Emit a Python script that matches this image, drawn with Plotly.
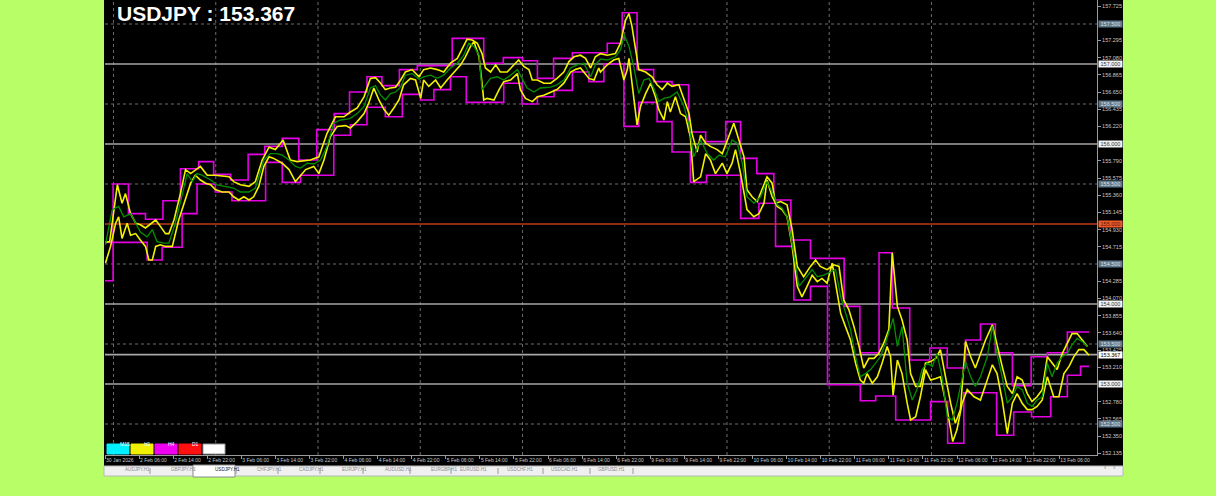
import plotly.graph_objects as go

# ---- data (x = H1 bar index, y = price) ----

CHAN_HI_X = [0, 1.9, 5.5, 9.5, 13.6, 17.7, 22.0, 25.5, 29.5, 33.6, 37.5, 41.6, 45.5, 49.7, 53.8, 57.4,
             61.5, 65.0, 69.1, 73.3, 81.5, 88.9, 93.5, 98.0, 101.5, 105.3, 109.7, 117.9, 121.4, 124.9,
             128.8, 133.1, 137.0, 141.0, 145.7, 149.2, 153.0, 157.0, 161.0, 165.6, 173.5, 177.2, 181.7,
             184.8, 188.9, 193.6, 197.7, 202.0, 205.5, 209.0, 213.0, 217.4, 221.2, 225.9, 231.0]
CHAN_HI_Y = [154.77, 155.50, 155.13, 155.06, 155.29, 155.69, 155.78, 155.62, 155.55, 155.87, 155.97, 156.07,
             155.80, 156.18, 156.38, 156.65, 156.84, 156.73, 156.93, 156.98, 157.32, 157.01, 157.08, 157.04,
             156.82, 157.07, 157.14, 157.26, 157.64, 156.93, 156.78, 156.74, 156.15, 156.03, 156.28, 155.82,
             155.63, 155.30, 154.80, 154.57, 153.97, 153.39, 154.64, 153.95, 153.30, 153.45, 153.20, 153.55,
             153.75, 153.39, 152.98, 153.34, 153.39, 153.65, 153.65]

CHAN_LO_X = [0, 1.9, 9.9, 13.4, 18.1, 21.6, 25.9, 29.8, 37.7, 41.6, 45.9, 53.7, 57.6, 61.5, 65.8, 69.8,
             74.1, 77.2, 81.1, 84.8, 93.6, 97.9, 101.5, 105.4, 109.7, 113.6, 117.1, 121.8, 125.3, 129.6,
             133.1, 137.4, 141.2, 149.2, 153.5, 157.4, 161.7, 165.6, 169.6, 177.3, 180.9, 185.6, 193.8,
             197.8, 201.6, 209.3, 213.3, 217.5, 222.0, 225.9, 229.0, 231.0]
CHAN_LO_Y = [154.29, 154.77, 154.55, 154.71, 155.13, 155.50, 155.40, 155.29, 155.77, 155.52, 155.61, 156.11,
             156.24, 156.46, 156.34, 156.62, 156.55, 156.68, 156.84, 156.52, 156.76, 156.50, 156.59, 156.67,
             156.90, 156.78, 157.00, 156.22, 156.52, 156.28, 155.90, 155.52, 155.61, 155.07, 155.26, 154.72,
             154.05, 154.22, 152.99, 152.79, 152.85, 152.55, 152.78, 152.26, 152.89, 152.36, 152.65, 152.59,
             152.84, 153.11, 153.22, 153.22]

BAND_UP_X = [0.1, 1.1, 2.9, 4.0, 4.8, 6.0, 7.2, 8.3, 9.5, 11.9, 13.0, 14.2, 15.0, 16.2, 17.7, 18.9, 20.1,
             22.4, 24.0, 25.9, 29.1, 30.2, 31.8, 33.8, 35.3, 36.9, 38.5, 40.0, 41.8, 43.5, 45.1, 48.2, 50.2,
             52.1, 54.1, 56.1, 57.6, 59.2, 60.8, 62.3, 63.5, 64.7, 65.8, 67.0, 68.2, 69.4, 70.5, 72.1, 73.7,
             74.8, 76.4, 78.0, 79.5, 81.1, 82.7, 83.8, 85.0, 86.2, 87.4, 88.5, 89.3, 90.5, 91.7, 92.8, 94.4,
             96.0, 97.1, 98.3, 99.5, 100.3, 101.5, 103.0, 104.6, 106.1, 107.7, 108.9, 110.1, 111.6, 112.8,
             114.0, 115.1, 116.3, 117.9, 119.8, 121.0, 122.2, 123.0, 123.7, 124.5, 125.3, 126.9, 128.4,
             129.6, 130.8, 132.0, 133.1, 134.7, 135.9, 137.1, 137.8, 139.0, 139.8, 141.0, 142.1, 143.7,
             144.9, 146.0, 147.6, 148.8, 150.0, 150.7, 151.9, 153.1, 154.3, 155.4, 156.6, 157.4, 158.6,
             160.1, 161.3, 162.5, 164.0, 165.6, 166.8, 167.9, 169.5, 171.1, 172.3, 173.4, 174.6, 175.8,
             177.0, 178.1, 179.3, 180.5, 181.6, 182.8, 184.0, 184.8, 186.0, 187.1, 188.3, 189.1, 190.3,
             191.4, 192.6, 193.8, 195.0, 196.1, 197.3, 198.5, 199.6, 200.8, 202.0, 203.2, 204.3, 205.5,
             206.7, 208.3, 209.4, 210.6, 211.8, 213.0, 214.1, 215.3, 216.5, 217.6, 218.8, 220.0, 221.2,
             222.3, 223.5, 224.7, 225.9, 227.0, 228.2, 229.4, 230.6]
BAND_UP_Y = [154.77, 154.78, 155.49, 155.26, 155.38, 155.13, 155.01, 154.99, 154.95, 155.05, 154.97, 154.88,
             154.88, 155.05, 155.38, 155.68, 155.63, 155.72, 155.61, 155.61, 155.59, 155.53, 155.49, 155.47,
             155.53, 155.80, 155.96, 155.93, 156.05, 155.80, 155.78, 155.80, 155.84, 156.13, 156.34, 156.34,
             156.40, 156.45, 156.59, 156.82, 156.83, 156.76, 156.68, 156.70, 156.71, 156.80, 156.90, 156.93,
             156.84, 156.93, 156.95, 156.93, 156.90, 157.01, 157.07, 157.18, 157.31, 157.30, 157.26, 157.13,
             156.95, 156.90, 156.99, 156.90, 156.90, 156.99, 157.05, 156.97, 156.93, 156.80, 156.80, 156.76,
             156.76, 156.82, 156.90, 157.03, 157.09, 157.11, 157.07, 156.95, 157.09, 157.13, 157.11, 157.13,
             157.26, 157.55, 157.63, 157.47, 157.18, 156.93, 156.90, 156.84, 156.74, 156.68, 156.76, 156.72,
             156.74, 156.55, 156.38, 156.13, 155.90, 156.11, 156.01, 155.97, 155.93, 155.88, 156.03, 156.26,
             156.05, 155.84, 155.43, 155.34, 155.28, 155.43, 155.59, 155.51, 155.26, 155.28, 155.24, 154.93,
             154.47, 154.34, 154.47, 154.55, 154.47, 154.43, 154.49, 154.47, 154.05, 153.93, 153.72, 153.47,
             153.20, 153.32, 153.32, 153.38, 153.51, 153.68, 154.64, 153.97, 153.80, 153.55, 153.13, 152.97,
             152.97, 153.26, 153.28, 153.32, 153.43, 153.09, 152.76, 152.51, 152.68, 153.53, 153.34, 153.20,
             153.38, 153.55, 153.74, 153.47, 153.22, 152.97, 152.88, 153.09, 153.05, 152.88, 152.78, 152.84,
             152.93, 153.34, 153.26, 153.18, 153.38, 153.51, 153.63, 153.63, 153.55, 153.47]

BAND_DN_X = [0.1, 1.3, 2.5, 3.2, 4.0, 5.2, 6.0, 7.2, 8.3, 9.5, 10.3, 11.1, 11.9, 13.0, 14.2, 15.8, 17.3,
             18.9, 20.1, 21.2, 22.4, 23.6, 24.8, 25.9, 27.5, 29.1, 30.2, 31.4, 32.6, 33.8, 34.9, 36.1, 37.3,
             38.5, 39.6, 41.6, 43.2, 44.7, 45.9, 47.1, 49.0, 50.2, 51.4, 52.9, 54.5, 56.5, 57.6, 59.2, 60.8,
             61.9, 63.1, 64.3, 65.5, 66.6, 67.8, 69.0, 70.1, 71.7, 72.9, 74.1, 74.8, 76.0, 77.6, 78.8, 80.3,
             81.9, 83.5, 84.6, 85.8, 86.6, 87.8, 88.5, 88.9, 89.7, 91.3, 92.5, 93.6, 95.2, 96.8, 97.5, 98.7,
             100.3, 101.5, 103.0, 104.6, 106.1, 107.7, 109.3, 110.4, 111.6, 112.4, 113.6, 114.8, 115.9,
             116.3, 117.9, 119.4, 120.6, 121.8, 122.6, 123.0, 123.7, 124.9, 125.7, 126.9, 128.1, 129.2,
             130.0, 131.2, 132.0, 132.7, 133.9, 135.1, 136.3, 137.4, 138.2, 139.8, 141.0, 142.1, 143.3,
             144.9, 146.0, 147.2, 148.0, 149.2, 150.7, 152.3, 153.5, 154.7, 155.4, 156.6, 157.8, 158.9,
             160.1, 161.3, 162.5, 163.6, 164.8, 166.0, 167.2, 168.3, 169.5, 170.7, 171.9, 172.7, 173.8,
             175.0, 176.2, 177.3, 178.1, 178.9, 180.1, 181.3, 182.4, 183.6, 184.4, 185.0, 186.0, 187.1,
             188.3, 189.1, 190.3, 191.4, 192.6, 193.8, 195.0, 196.1, 197.7, 199.0, 200.0, 201.2, 202.4,
             204.0, 205.5, 207.1, 208.3, 209.4, 210.6, 211.8, 213.0, 214.1, 215.3, 216.5, 217.6, 218.8,
             220.0, 221.2, 222.7, 223.9, 225.1, 226.3, 227.4, 228.6, 229.8, 231.0]
BAND_DN_Y = [154.51, 154.72, 155.01, 155.09, 154.82, 155.01, 154.86, 154.88, 154.80, 154.72, 154.55, 154.55,
             154.72, 154.74, 154.72, 154.72, 155.05, 155.30, 155.51, 155.61, 155.55, 155.51, 155.49, 155.43,
             155.40, 155.40, 155.34, 155.30, 155.34, 155.30, 155.34, 155.47, 155.72, 155.84, 155.82, 155.76,
             155.68, 155.53, 155.61, 155.68, 155.72, 155.63, 155.80, 156.09, 156.22, 156.23, 156.20, 156.28,
             156.38, 156.51, 156.70, 156.55, 156.43, 156.36, 156.45, 156.55, 156.74, 156.82, 156.80, 156.57,
             156.80, 156.72, 156.80, 156.70, 156.80, 156.90, 156.99, 157.09, 157.22, 157.28, 157.09, 156.76,
             156.55, 156.57, 156.55, 156.68, 156.78, 156.80, 156.88, 156.68, 156.57, 156.53, 156.59, 156.61,
             156.65, 156.68, 156.76, 156.90, 156.93, 156.95, 156.90, 156.82, 156.80, 156.95, 156.90, 156.99,
             157.05, 157.07, 156.80, 156.93, 157.07, 156.76, 156.24, 156.47, 156.63, 156.76, 156.59, 156.43,
             156.30, 156.53, 156.40, 156.59, 156.38, 156.34, 156.09, 155.53, 155.59, 155.88, 155.80, 155.63,
             155.76, 155.63, 155.76, 155.93, 155.63, 155.18, 155.09, 155.13, 155.26, 155.55, 155.34, 155.22,
             155.18, 155.09, 154.72, 154.22, 154.09, 154.22, 154.36, 154.28, 154.32, 154.26, 154.51, 154.13,
             153.88, 153.72, 153.55, 153.26, 153.05, 153.01, 153.13, 153.01, 153.09, 153.26, 153.47, 153.34,
             152.86, 153.30, 153.13, 152.76, 152.55, 152.59, 152.84, 153.18, 153.05, 153.07, 153.09, 152.68,
             152.28, 152.43, 152.76, 152.93, 152.84, 152.80, 153.05, 153.24, 153.13, 152.80, 152.38, 152.76,
             152.88, 152.76, 152.68, 152.68, 152.72, 152.80, 153.09, 152.84, 152.84, 153.13, 153.22, 153.34,
             153.43, 153.43, 153.36]

MID_X = [0.1, 1.7, 3.2, 4.4, 6.0, 7.2, 8.3, 9.9, 11.1, 12.2, 13.8, 15.0, 16.5, 18.1, 19.3, 20.5, 21.6,
         22.8, 24.8, 26.3, 28.7, 30.2, 31.8, 33.8, 35.3, 37.3, 38.8, 40.4, 41.6, 43.2, 44.7, 45.9, 47.5,
         49.0, 50.6, 52.1, 53.7, 55.3, 56.8, 57.6, 59.2, 60.8, 62.3, 63.5, 64.7, 65.8, 67.0, 68.2, 69.4,
         70.5, 72.1, 73.7, 74.8, 76.4, 78.0, 79.5, 81.1, 82.7, 84.2, 85.4, 86.6, 87.8, 88.5, 89.3, 90.5,
         92.1, 93.6, 95.2, 96.8, 97.9, 99.1, 100.7, 102.2, 104.6, 106.1, 107.7, 109.3, 110.8, 112.4,
         114.0, 115.1, 116.3, 117.9, 119.8, 121.0, 121.9, 123.0, 124.1, 125.3, 126.5, 127.7, 128.8,
         130.0, 131.2, 132.7, 134.3, 135.9, 137.1, 138.2, 139.8, 141.4, 142.9, 144.1, 145.6, 147.2,
         148.4, 149.6, 150.7, 152.3, 153.9, 155.4, 156.6, 157.8, 158.9, 160.1, 161.7, 162.9, 164.4,
         166.0, 167.2, 168.7, 170.3, 171.5, 172.7, 173.8, 175.0, 176.2, 177.3, 178.5, 179.7, 180.9,
         182.0, 183.2, 184.4, 185.0, 186.0, 187.1, 188.3, 189.5, 190.6, 191.8, 193.0, 194.2, 195.3,
         196.5, 197.7, 198.9, 200.0, 201.2, 202.0, 203.2, 204.3, 205.5, 207.1, 208.3, 209.4, 210.6,
         211.8, 213.0, 214.1, 215.3, 216.5, 217.6, 218.8, 220.0, 221.2, 222.3, 223.5, 224.7, 225.9,
         227.0, 228.2, 229.4, 230.6]
MID_Y = [154.74, 155.18, 155.22, 155.09, 155.13, 155.01, 154.90, 154.84, 154.93, 154.78, 154.76, 154.76,
         155.01, 155.36, 155.63, 155.53, 155.63, 155.61, 155.55, 155.49, 155.47, 155.45, 155.40, 155.40,
         155.45, 155.80, 155.88, 155.88, 155.86, 155.80, 155.72, 155.70, 155.76, 155.75, 155.80, 155.97,
         156.26, 156.30, 156.31, 156.32, 156.38, 156.47, 156.70, 156.73, 156.61, 156.55, 156.63, 156.65,
         156.71, 156.86, 156.88, 156.81, 156.84, 156.86, 156.82, 156.86, 156.95, 157.01, 157.11, 157.26,
         157.22, 157.11, 156.68, 156.74, 156.82, 156.84, 156.80, 156.86, 156.93, 156.82, 156.70, 156.65,
         156.70, 156.71, 156.74, 156.80, 156.95, 156.99, 157.01, 156.84, 156.99, 157.06, 157.05, 157.09,
         157.18, 157.36, 157.22, 156.97, 156.63, 156.80, 156.82, 156.70, 156.53, 156.57, 156.59, 156.65,
         156.47, 156.24, 155.84, 156.05, 155.88, 155.80, 155.86, 155.84, 156.05, 156.01, 155.76, 155.34,
         155.26, 155.34, 155.53, 155.40, 155.24, 155.20, 155.09, 154.63, 154.22, 154.32, 154.43, 154.34,
         154.36, 154.40, 154.43, 154.09, 153.88, 153.68, 153.34, 153.09, 153.13, 153.18, 153.26, 153.34,
         153.51, 153.72, 153.82, 153.47, 153.72, 153.01, 152.80, 152.93, 153.18, 153.26, 153.22, 153.38,
         153.09, 152.59, 152.55, 152.76, 153.09, 153.28, 153.09, 152.97, 153.09, 153.34, 153.72, 153.38,
         153.09, 152.76, 152.84, 152.97, 152.93, 152.76, 152.72, 152.80, 152.84, 153.26, 153.09, 153.26,
         153.34, 153.38, 153.49, 153.57, 153.53, 153.47]

TIME_TICKS = [0, 8, 16, 24, 32, 40, 48, 56, 64, 72, 80, 88, 96, 104, 112, 120, 128, 136, 144, 152,
              160, 168, 176, 184, 192, 200, 208, 216, 224]
TIME_LABELS = ["30 Jan 2026", "2 Feb 06:00", "2 Feb 14:00", "2 Feb 22:00", "3 Feb 06:00", "3 Feb 14:00",
               "3 Feb 22:00", "4 Feb 06:00", "4 Feb 14:00", "4 Feb 22:00", "5 Feb 06:00", "5 Feb 14:00",
               "5 Feb 22:00", "6 Feb 06:00", "6 Feb 14:00", "6 Feb 22:00", "9 Feb 06:00", "9 Feb 14:00",
               "9 Feb 22:00", "10 Feb 06:00", "10 Feb 14:00", "10 Feb 22:00", "11 Feb 06:00",
               "11 Feb 14:00", "11 Feb 22:00", "12 Feb 06:00", "12 Feb 14:00", "12 Feb 22:00",
               "13 Feb 06:00"]
DAY_STARTS = [2, 26, 50, 74, 98, 122, 146, 170, 194, 218]

PRICE_TICKS = [152.135, 152.350, 152.565, 152.780, 153.210, 153.425, 153.640, 153.855, 154.070, 154.285,
               154.715, 154.930, 155.145, 155.360, 155.575, 155.790, 156.220, 156.435, 156.650, 156.865,
               157.080, 157.295, 157.725]
HALF_LEVELS = [157.5, 156.5, 155.5, 154.5, 153.5, 152.5]
ROUND_LEVELS = [157.0, 156.0, 154.0, 153.0]
PIVOT_LEVEL = 155.0
LAST_PRICE = 153.367
SYMBOL = "USDJPY"

TF_BUTTONS = ["M15", "H1", "H4", "D1", ""]
TABS = ["AUDJPY.H1", "GBPJPY.H1", "USDJPY.H1", "CHFJPY.H1", "CADJPY.H1", "EURJPY.H1", "AUDUSD.H1",
        "EURGBP.H1", "EURUSD.H1", "USDCHF.H1", "USDCAD.H1", "GBPUSD.H1"]

# ---- styling / geometry of the MT4 window ----
W, H = 1216, 496
PL, PR, PT, PB = 105, 1097, 0, 455
PAGE_GREEN = "#b7fe67"
FONT = "Liberation Sans"
GRID_DOT = "#6c6c6c"
TXT = "#c8c8c8"


def px(x):
    return (x - PL) / (PR - PL)


def py(y):
    return (PB - y) / (PB - PT)


fig = go.Figure()


def add_line(xs, ys, color, width, shape="linear"):
    fig.add_trace(go.Scatter(x=xs, y=ys, mode="lines", showlegend=False, hoverinfo="skip",
                             line=dict(color=color, width=width, shape=shape)))


add_line(CHAN_HI_X, CHAN_HI_Y, "#e600e6", 1.6, "hv")
add_line(CHAN_LO_X, CHAN_LO_Y, "#e600e6", 1.6, "hv")
add_line(BAND_UP_X, BAND_UP_Y, "#f2f200", 1.6)
add_line(BAND_DN_X, BAND_DN_Y, "#f2f200", 1.6)
add_line(MID_X, MID_Y, "#009000", 1.3)

shapes = []
# black terminal panel (chart + axes area)
shapes.append(dict(type="rect", xref="paper", yref="paper", x0=px(104), x1=px(1123), y0=py(466), y1=py(0),
                   fillcolor="#000000", line_width=0, layer="below"))
for lvl in HALF_LEVELS:
    shapes.append(dict(type="line", xref="paper", yref="y", x0=0, x1=1, y0=lvl, y1=lvl,
                       line=dict(color=GRID_DOT, width=1, dash="dot"), layer="below"))
for d in DAY_STARTS:
    shapes.append(dict(type="line", xref="x", yref="paper", x0=d, x1=d, y0=0, y1=1,
                       line=dict(color=GRID_DOT, width=1, dash="dot"), layer="below"))
for lvl in ROUND_LEVELS + [LAST_PRICE]:
    shapes.append(dict(type="line", xref="paper", yref="y", x0=0, x1=1, y0=lvl, y1=lvl,
                       line=dict(color="#a6a6a6", width=1.6), layer="below"))
shapes.append(dict(type="line", xref="paper", yref="y", x0=0, x1=1, y0=PIVOT_LEVEL, y1=PIVOT_LEVEL,
                   line=dict(color="#8c2c14", width=1.8), layer="below"))

annotations = []
annotations.append(dict(xref="paper", yref="paper", x=px(115), y=py(0), xanchor="left", yanchor="top",
                        text=f"<b>{SYMBOL} : {LAST_PRICE:.3f}</b>", showarrow=False,
                        font=dict(family=FONT, size=21, color="#ffffff")))

# price boxes on the right scale
box_styles = {157.5: ("#5e7689", "#dbe3ea"), 157.0: ("#f2f2f2", "#333333"), 156.5: ("#5e7689", "#dbe3ea"),
              156.0: ("#f2f2f2", "#333333"), 155.5: ("#5e7689", "#dbe3ea"), 155.0: ("#ef5a2a", "#4a1408"),
              154.5: ("#5e7689", "#dbe3ea"), 154.0: ("#f2f2f2", "#333333"), 153.5: ("#5e7689", "#dbe3ea"),
              LAST_PRICE: ("#ffffff", "#000000"), 153.0: ("#f2f2f2", "#333333"), 152.5: ("#5e7689", "#dbe3ea")}
for lvl, (bg, fg) in box_styles.items():
    annotations.append(dict(xref="paper", yref="y", x=px(1098), y=lvl, xanchor="left", yanchor="middle",
                            text=f"{lvl:.3f}", showarrow=False, bgcolor=bg, borderpad=0, width=23,
                            font=dict(family=FONT, size=5.5, color=fg)))

# timeframe buttons, bottom-left
btn_colors = ["#00f0ff", "#f0f000", "#f000f0", "#ff1010", "#ffffff"]
btn_x0 = [107, 131, 155, 179, 203]
for name, col, x0 in zip(TF_BUTTONS, btn_colors, btn_x0):
    shapes.append(dict(type="rect", xref="paper", yref="paper", x0=px(x0), x1=px(x0 + 22),
                       y0=py(454), y1=py(444), fillcolor=col,
                       line=dict(color="#9a9a9a" if name == "" else col, width=1)))
    if name:
        annotations.append(dict(xref="paper", yref="paper", x=px(x0 + 11), y=py(449), text=name,
                                showarrow=False, font=dict(family=FONT, size=5, color="#ffffff")))

# symbol tab strip
shapes.append(dict(type="rect", xref="paper", yref="paper", x0=px(104), x1=px(1123), y0=py(476), y1=py(466),
                   fillcolor="#f0f0f0", line=dict(color="#b8b8b8", width=1)))
tab_cx = [124, 170, 214, 256, 298, 341, 384, 430, 473, 520, 564, 611]
tab_sep = [150, 236, 278, 320, 363, 410, 451, 498, 543, 590, 633]
shapes.append(dict(type="rect", xref="paper", yref="paper", x0=px(193), x1=px(235), y0=py(477), y1=py(465),
                   fillcolor="#ffffff", line=dict(color="#8a8a8a", width=1)))
for s in tab_sep:
    shapes.append(dict(type="line", xref="paper", yref="paper", x0=px(s), x1=px(s), y0=py(474), y1=py(468),
                       line=dict(color="#9a9a9a", width=1)))
for name, cx in zip(TABS, tab_cx):
    annotations.append(dict(xref="paper", yref="paper", x=px(cx), y=py(473), text=name, showarrow=False,
                            borderpad=0,
                            font=dict(family=FONT, size=4.6,
                                      color="#202020" if name.startswith(SYMBOL) else "#8a8a8a")))
for cx, arrow in [(1108, "‹"), (1117, "›")]:
    annotations.append(dict(xref="paper", yref="paper", x=px(cx), y=py(472), text=arrow, showarrow=False,
                            borderpad=0, font=dict(family=FONT, size=7, color="#8a8a8a")))

fig.update_layout(
    width=W, height=H,
    margin=dict(l=PL, r=W - PR, t=PT, b=H - PB),
    paper_bgcolor=PAGE_GREEN, plot_bgcolor="#000000",
    showlegend=False,
    shapes=shapes, annotations=annotations,
    xaxis=dict(range=[0, 232.86], showgrid=False, zeroline=False,
               tickmode="array", tickvals=TIME_TICKS, ticktext=TIME_LABELS, tickangle=0,
               ticks="outside", ticklen=3, tickcolor="#9a9a9a", ticklabelposition="outside right",
               tickfont=dict(family=FONT, size=5, color=TXT),
               showline=True, linecolor="#9a9a9a", linewidth=1),
    yaxis=dict(range=[152.1125, 157.8], side="right", showgrid=False, zeroline=False,
               tickmode="array", tickvals=PRICE_TICKS, ticktext=[f"{v:.3f}" for v in PRICE_TICKS],
               ticks="outside", ticklen=3, tickcolor="#9a9a9a",
               tickfont=dict(family=FONT, size=5.5, color=TXT),
               showline=True, linecolor="#9a9a9a", linewidth=1),
)

# page body margin would push the fixed-size figure off by 8px
fig.write_html("out.html", config={"displayModeBar": False},
               post_script="document.body.style.margin='0';")
